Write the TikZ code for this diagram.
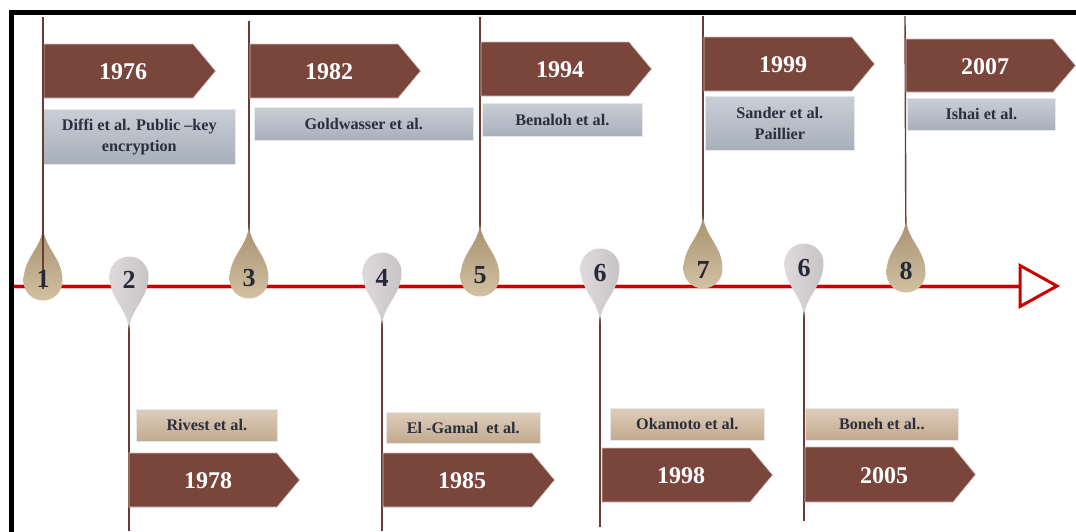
\documentclass[tikz,border=0pt]{standalone}
\usepackage{fontspec}
\setmainfont{Liberation Serif}
\definecolor{bannercol}{HTML}{7A463C}
\definecolor{stemcol}{HTML}{6B3B33}
\definecolor{blueA}{HTML}{C9CED6}
\definecolor{blueB}{HTML}{A7AFBB}
\definecolor{tanboxA}{HTML}{DDCDBB}
\definecolor{tanboxB}{HTML}{C3A98F}
\definecolor{boxtext}{HTML}{2B2E3B}
\definecolor{tanA}{HTML}{A68F6E}
\definecolor{tanB}{HTML}{D2C1A2}
\definecolor{greyA}{HTML}{DEDADB}
\definecolor{greyB}{HTML}{C8C4C6}
\definecolor{pintext}{HTML}{262A38}
\definecolor{axiscol}{HTML}{C80000}

% year banner: name, left, top, bottom, right end of body, year
\newcommand\yearbanner[6]{%
  \draw[banner] (#2,#3) -- (#5,#3) -- ({#5+22.5},{(#3+#4)/2}) -- (#5,#4) -- (#2,#4) -- cycle;
  \node[yeartext] (#1) at ({#2+79},{(#3+#4)/2+1}) {#6};}

% teardrop pin with its tail pointing up: x, y of bulb centre
\newcommand\uppin[2]{%
  \shade[top color=tanA, bottom color=tanB, shift={(#1,#2)}]
    (0,-55) .. controls (0.6,-33) and (19.5,-24) .. (19.5,0)
    .. controls (19.5,10.8) and (10.8,19.5) .. (0,19.5)
    .. controls (-10.8,19.5) and (-19.5,10.8) .. (-19.5,0)
    .. controls (-19.5,-24) and (-0.6,-33) .. (0,-55) -- cycle;}

% teardrop pin with its tail pointing down
\newcommand\downpin[2]{%
  \shade[left color=greyA, right color=greyB, shift={(#1,#2)}]
    (0,55) .. controls (0.6,33) and (19.5,24) .. (19.5,0)
    .. controls (19.5,-10.8) and (10.8,-19.5) .. (0,-19.5)
    .. controls (-10.8,-19.5) and (-19.5,-10.8) .. (-19.5,0)
    .. controls (-19.5,24) and (-0.6,33) .. (0,55) -- cycle;}

\begin{document}
\begin{tikzpicture}[x=1pt,y=-1pt,
  frameline/.style={line width=5pt, black, line join=miter},
  stem/.style={line width=1.4pt, draw=stemcol},
  banner/.style={fill=bannercol, draw=bannercol!35!white, line width=0.6pt},
  yeartext/.style={text=white, font=\bfseries\fontsize{24}{28}\selectfont, inner sep=0pt},
  infobox/.style={anchor=north west, inner sep=0pt, align=center, text=boxtext,
    font=\bfseries\fontsize{16.2}{21}\selectfont, draw=white!82!gray, line width=0.6pt},
  bluebox/.style={infobox, top color=blueA, bottom color=blueB},
  tanbox/.style={infobox, top color=tanboxA, bottom color=tanboxB},
  pinnum/.style={text=pintext, font=\bfseries\fontsize{26}{30}\selectfont, inner sep=0pt},
]
\useasboundingbox (0,0) rectangle (1076,531);

% frame
\draw[frameline] (11.5,540) -- (11.5,12.5) -- (1085,12.5);

% pin labels (placed first so the stems can refer to them)
\node[pinnum] (p1) at (43,279) {\phantom{1}};
\node[pinnum] (p2) at (129,280) {\phantom{2}};
\node[pinnum] (p3) at (249,278) {\phantom{3}};
\node[pinnum] (p4) at (382,278) {\phantom{4}};
\node[pinnum] (p5) at (480,275) {\phantom{5}};
\node[pinnum] (p6) at (600,273) {\phantom{6}};
\node[pinnum] (p7) at (703,270) {\phantom{7}};
\node[pinnum] (p9) at (804,268) {\phantom{6}};
\node[pinnum] (p8) at (906,271) {\phantom{8}};

% stem end points
\coordinate (s1) at (43,17);
\coordinate (s3) at (249,21);
\coordinate (s5) at (480,17);
\coordinate (s7) at (703,16);
\coordinate (s8) at (905,16);
\coordinate (s2) at (129,531);
\coordinate (s4) at (382,531);
\coordinate (s6) at (600,527);
\coordinate (s9) at (804,521);

% stems
\draw[stem] (s3) -- (p3);
\draw[stem] (s5) -- (p5);
\draw[stem] (s7) -- (p7);
\draw[stem] (s8) -- (p8);
\draw[stem] (p2) -- (s2);
\draw[stem] (p4) -- (s4);
\draw[stem] (p6) -- (s6);
\draw[stem] (p9) -- (s9);

% upper banners and boxes
\yearbanner{y1976}{44}{44}{98}{193}{1976}
\yearbanner{y1982}{250}{44}{98}{398}{1982}
\yearbanner{y1994}{481}{42}{96}{629}{1994}
\yearbanner{y1999}{704}{37}{91}{852}{1999}
\yearbanner{y2007}{906}{39}{92}{1053}{2007}

\node[bluebox, minimum width=192pt, minimum height=55pt] (diffi) at (43,109) {Diffi et al. Public --key\\encryption};
\node[bluebox, minimum width=219pt, minimum height=33pt] (gold) at (254,107) {Goldwasser et al.};
\node[bluebox, minimum width=160pt, minimum height=33pt] (bena) at (482,103) {Benaloh et al.};
\node[bluebox, minimum width=149pt, minimum height=54pt] (sand) at (705,96) {Sander et al.\\Paillier};
\node[bluebox, minimum width=148pt, minimum height=32pt] (isha) at (907,98) {Ishai et al.};

% lower boxes and banners
\node[tanbox, minimum width=141pt, minimum height=32pt] (rive) at (136,409) {Rivest et al.};
\node[tanbox, minimum width=154pt, minimum height=31pt] (elga) at (386,412) {El -Gamal\ \ et al.};
\node[tanbox, minimum width=154pt, minimum height=32pt] (okam) at (610,408) {Okamoto et al.};
\node[tanbox, minimum width=153pt, minimum height=32pt] (bone) at (805,408) {Boneh et al..};

\yearbanner{y1978}{129}{453}{507}{277}{1978}
\yearbanner{y1985}{383}{453}{507}{532}{1985}
\yearbanner{y1998}{602}{448}{502}{750}{1998}
\yearbanner{y2005}{805}{447}{502}{953}{2005}

% time axis
\coordinate (t0) at (14,286);
\coordinate (t1) at (1020,286);
\coordinate (tip) at (1057,286);
\draw[line width=5pt, axiscol!25] (t0) -- (t1);
\draw[line width=3pt, axiscol] (t0) -- (t1);
\draw[line width=3pt, axiscol, fill=white, line join=miter]
  (1020,265.5) -- (tip) -- (1020,306.5) -- cycle;

% pins
\uppin{43}{281}
\uppin{249}{279}
\uppin{480}{277}
\uppin{703}{269}
\uppin{906}{273}
\downpin{129}{276}
\downpin{382}{272}
\downpin{600}{268}
\downpin{804}{263}

% first stem runs across its pin
\draw[stem] (s1) -- (43,289);

% pin numbers
\node[pinnum] at (p1) {1};
\node[pinnum] at (p2) {2};
\node[pinnum] at (p3) {3};
\node[pinnum] at (p4) {4};
\node[pinnum] at (p5) {5};
\node[pinnum] at (p6) {6};
\node[pinnum] at (p7) {7};
\node[pinnum] at (p9) {6};
\node[pinnum] at (p8) {8};
\end{tikzpicture}
\end{document}
